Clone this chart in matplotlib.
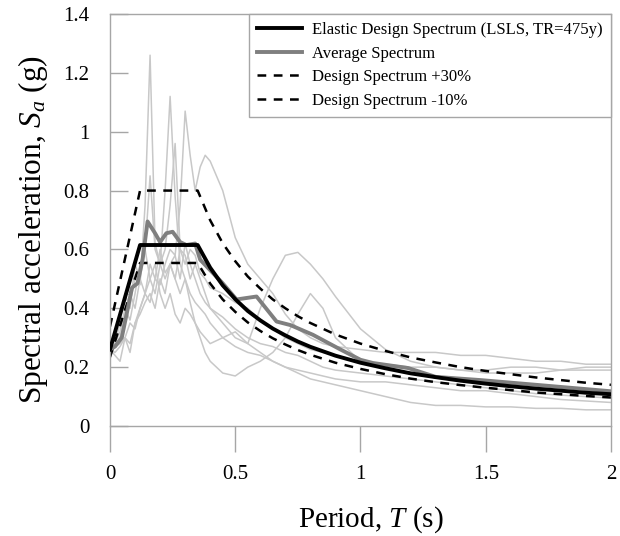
import matplotlib
matplotlib.use("Agg")
import matplotlib.pyplot as plt

plt.rcParams['font.family'] = ['Liberation Serif', 'DejaVu Serif']
plt.rcParams['mathtext.fontset'] = 'custom'
plt.rcParams['mathtext.rm'] = 'Liberation Serif'
plt.rcParams['mathtext.it'] = 'Liberation Serif:italic'

# design spectrum (EC8 type, LSLS)
T_des = [0, 0.12, 0.35, 0.40, 0.45, 0.50, 0.55, 0.60, 0.65, 0.70, 0.75, 0.80, 0.90,
         1.0, 1.1, 1.2, 1.3, 1.4, 1.5, 1.6, 1.7, 1.8, 1.9, 2.0]
Sa_des = [0.26, 0.615, 0.615, 0.538, 0.478, 0.431, 0.391, 0.359, 0.331, 0.308, 0.287,
          0.269, 0.239, 0.215, 0.196, 0.179, 0.166, 0.154, 0.144, 0.135, 0.127, 0.120,
          0.113, 0.108]
Sa_up = [0.338, 0.80, 0.80, 0.699, 0.621, 0.560, 0.508, 0.467, 0.430, 0.400, 0.373,
         0.350, 0.311, 0.280, 0.255, 0.233, 0.216, 0.200, 0.187, 0.176, 0.165, 0.156,
         0.147, 0.140]
Sa_low = [0.234, 0.554, 0.554, 0.484, 0.430, 0.388, 0.352, 0.323, 0.298, 0.277, 0.258,
          0.242, 0.215, 0.194, 0.176, 0.161, 0.149, 0.139, 0.130, 0.122, 0.114, 0.108,
          0.102, 0.097]

# average spectrum of the records
T_avg = [0, 0.02, 0.047, 0.088, 0.11, 0.13, 0.15, 0.18, 0.20, 0.225, 0.25, 0.28, 0.305,
         0.34, 0.36, 0.45, 0.505, 0.585, 0.665, 0.72, 0.81, 0.92, 1.0, 1.05, 1.19, 1.3,
         1.48, 1.7, 2.0]
Sa_avg = [0.26, 0.27, 0.30, 0.47, 0.485, 0.565, 0.695, 0.655, 0.625, 0.655, 0.66, 0.625,
          0.615, 0.62, 0.565, 0.485, 0.43, 0.44, 0.355, 0.343, 0.31, 0.26, 0.225, 0.214,
          0.197, 0.167, 0.156, 0.14, 0.118]

# individual ground motion records
T_rec = [0, 0.02, 0.04, 0.06, 0.08, 0.10, 0.12, 0.14, 0.16, 0.18, 0.20, 0.22, 0.24,
         0.26, 0.28, 0.30, 0.32, 0.34, 0.36, 0.38, 0.40, 0.45, 0.50, 0.55, 0.60, 0.65,
         0.70, 0.75, 0.80, 0.85, 0.90, 1.0, 1.1, 1.2, 1.3, 1.4, 1.5, 1.6, 1.7, 1.8, 1.9, 2.0]
rec1 = [0.26, 0.27, 0.30, 0.35, 0.42, 0.50, 0.48, 0.75, 1.26, 0.62, 0.55, 0.50, 0.55,
        0.58, 0.50, 0.62, 0.55, 0.50, 0.45, 0.42, 0.40, 0.37, 0.33, 0.30, 0.28, 0.27,
        0.25, 0.24, 0.22, 0.20, 0.19, 0.18, 0.17, 0.16, 0.15, 0.14, 0.13, 0.12, 0.11,
        0.105, 0.10, 0.095]
rec2 = [0.26, 0.28, 0.32, 0.40, 0.36, 0.45, 0.55, 0.60, 0.50, 0.45, 0.55, 0.80, 1.12,
        0.78, 0.55, 0.50, 0.45, 0.42, 0.40, 0.38, 0.35, 0.30, 0.27, 0.25, 0.24, 0.22,
        0.20, 0.19, 0.18, 0.17, 0.16, 0.15, 0.15, 0.14, 0.13, 0.12, 0.12, 0.11, 0.10,
        0.09, 0.085, 0.08]
rec3 = [0.26, 0.27, 0.30, 0.38, 0.45, 0.40, 0.50, 0.60, 0.85, 0.60, 0.55, 0.60, 0.75,
        0.96, 0.60, 0.55, 0.60, 0.58, 0.52, 0.50, 0.47, 0.45, 0.42, 0.40, 0.36, 0.33,
        0.30, 0.28, 0.26, 0.25, 0.24, 0.22, 0.21, 0.20, 0.20, 0.19, 0.19, 0.20, 0.20,
        0.19, 0.19, 0.19]
rec4 = [0.26, 0.27, 0.28, 0.30, 0.35, 0.33, 0.40, 0.45, 0.42, 0.50, 0.48, 0.55, 0.60,
        0.58, 0.75, 1.07, 0.92, 0.80, 0.88, 0.92, 0.90, 0.80, 0.64, 0.55, 0.50, 0.45,
        0.38, 0.33, 0.30, 0.28, 0.27, 0.26, 0.25, 0.25, 0.25, 0.24, 0.24, 0.23, 0.22,
        0.22, 0.21, 0.21]
rec5 = [0.26, 0.28, 0.35, 0.45, 0.40, 0.55, 0.50, 0.45, 0.55, 0.50, 0.60, 0.52, 0.55,
        0.50, 0.60, 0.58, 0.50, 0.55, 0.50, 0.45, 0.40, 0.35, 0.30, 0.28, 0.40, 0.50,
        0.58, 0.59, 0.55, 0.50, 0.44, 0.33, 0.26, 0.22, 0.20, 0.19, 0.18, 0.18, 0.18,
        0.19, 0.20, 0.20]
rec6 = [0.26, 0.25, 0.27, 0.30, 0.28, 0.35, 0.38, 0.42, 0.45, 0.40, 0.50, 0.45, 0.55,
        0.50, 0.45, 0.50, 0.42, 0.35, 0.30, 0.25, 0.22, 0.18, 0.17, 0.20, 0.22, 0.25,
        0.30, 0.38, 0.45, 0.40, 0.30, 0.22, 0.20, 0.18, 0.17, 0.16, 0.15, 0.14, 0.13,
        0.12, 0.115, 0.11]
rec7 = [0.26, 0.24, 0.22, 0.30, 0.25, 0.35, 0.40, 0.45, 0.50, 0.55, 0.45, 0.40, 0.45,
        0.38, 0.35, 0.40, 0.38, 0.35, 0.32, 0.30, 0.28, 0.30, 0.32, 0.28, 0.25, 0.22,
        0.20, 0.18, 0.16, 0.15, 0.14, 0.12, 0.10, 0.08, 0.07, 0.07, 0.065, 0.065, 0.06,
        0.06, 0.055, 0.055]
records = [rec1, rec2, rec3, rec4, rec5, rec6, rec7]

fig = plt.figure(figsize=(6.2, 5.36), dpi=100)
ax = fig.add_axes([0.1774, 0.2052, 0.8081, 0.7687])

for r in records:
    ax.plot(T_rec, r, color='#c8c8c8', lw=1.1, zorder=1)

l1, = ax.plot(T_des, Sa_des, color='black', lw=2.8, zorder=4,
              label='Elastic Design Spectrum (LSLS, TR=475y)')
l2, = ax.plot(T_avg, Sa_avg, color='#7f7f7f', lw=2.8, zorder=3, label='Average Spectrum')
l3, = ax.plot(T_des, Sa_up, color='black', lw=1.8, ls=(0, (3.5, 3)), zorder=2,
              label='Design Spectrum +30%')
l4, = ax.plot(T_des, Sa_low, color='black', lw=1.8, ls=(0, (3.5, 3)), zorder=2,
              label='Design Spectrum -10%')

ax.set_xlim(0, 2)
ax.set_ylim(0, 1.4)
ax.set_xticks([0, 0.5, 1, 1.5, 2])
ax.set_xticklabels(['0', '0.5', '1', '1.5', '2'])
ax.set_yticks([0, 0.2, 0.4, 0.6, 0.8, 1.0, 1.2, 1.4])
ax.set_yticklabels(['0', '0.2', '0.4', '0.6', '0.8', '1', '1.2', '1.4'])

for s in ax.spines.values():
    s.set_color('#a6a6a6')
    s.set_linewidth(1.0)
ax.tick_params(axis='y', direction='in', length=13, width=1.0, color='#a6a6a6',
               labelsize=15, pad=15)
ax.tick_params(axis='x', direction='out', length=19, width=1.0, color='#a6a6a6',
               labelsize=15, pad=9)

ax.set_xlabel('Period, $T$ (s)', fontsize=21)
ax.set_ylabel('Spectral acceleration, $S_a$ (g)', fontsize=22.5)
ax.xaxis.set_label_coords(0.521, -0.19)
ax.yaxis.set_label_coords(-0.12, 0.478)

leg = ax.legend(handles=[l1, l2, l3, l4], loc='upper right', borderaxespad=0,
                fancybox=False, edgecolor='#a6a6a6', fontsize=12, handlelength=2.7,
                handletextpad=0.6, labelspacing=0.45, borderpad=0.5, framealpha=1)
leg.get_frame().set_linewidth(1.0)

fig.savefig('out.png', dpi=100)
